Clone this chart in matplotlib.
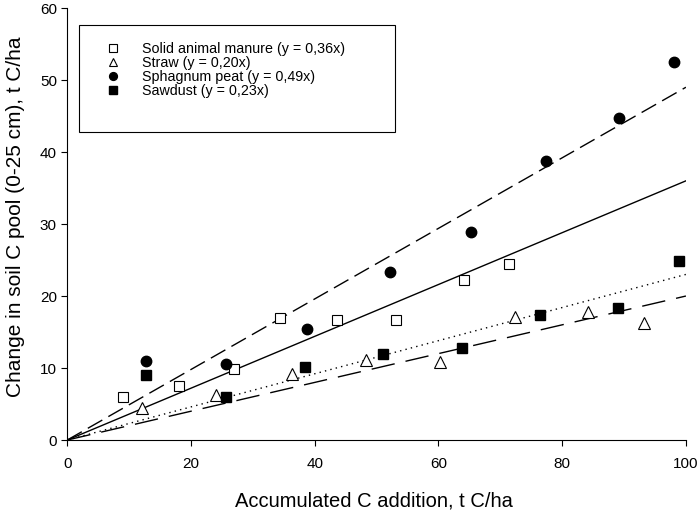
import numpy as np
import matplotlib.pyplot as plt
from matplotlib.patches import Rectangle

plt.rcParams['font.family'] = ['Liberation Sans', 'DejaVu Sans']

manure_x = [9.0, 18.1, 27.0, 34.4, 43.6, 53.2, 64.1, 71.4]
manure_y = [6.0, 7.5, 9.8, 16.9, 16.6, 16.6, 22.2, 24.4]

straw_x = [12.0, 24.1, 36.3, 48.3, 60.2, 72.3, 84.2, 93.2]
straw_y = [4.4, 6.25, 9.2, 11.1, 10.8, 17.1, 17.8, 16.3]

peat_x = [12.8, 25.6, 38.7, 52.1, 65.2, 77.3, 89.2, 98.1]
peat_y = [11.0, 10.6, 15.4, 23.3, 28.9, 38.7, 44.7, 52.5]

sawdust_x = [12.7, 25.6, 38.5, 51.1, 63.8, 76.4, 89.1, 98.9]
sawdust_y = [9.0, 6.0, 10.2, 12.0, 12.8, 17.3, 18.4, 24.9]

slopes = {'manure': 0.36, 'straw': 0.20, 'peat': 0.49, 'sawdust': 0.23}
labels = ['Solid animal manure (y = 0,36x)', 'Straw (y = 0,20x)',
          'Sphagnum peat (y = 0,49x)', 'Sawdust (y = 0,23x)']


def main():
    fig = plt.figure(figsize=(6.99, 5.13), dpi=100)
    ax = fig.add_axes([0.0963, 0.1423, 0.885, 0.842])

    # regression lines through origin
    xx = np.array([0, 100])
    ax.plot(xx, slopes['manure'] * xx, color='black', lw=1.0, ls='-')
    ax.plot(xx, slopes['straw'] * xx, color='black', lw=1.0, ls=(0, (17, 8)))
    ax.plot(xx, slopes['peat'] * xx, color='black', lw=1.0, ls=(0, (12, 5)))
    ax.plot(xx, slopes['sawdust'] * xx, color='black', lw=1.0, ls=(0, (1, 3)))

    ms = 7
    h1, = ax.plot(manure_x, manure_y, ls='none', marker='s', ms=ms,
                  mfc='white', mec='black', mew=0.8, label=labels[0])
    h2, = ax.plot(straw_x, straw_y, ls='none', marker='^', ms=ms + 1,
                  mfc='white', mec='black', mew=0.8, label=labels[1])
    h3, = ax.plot(peat_x, peat_y, ls='none', marker='o', ms=ms + 0.5,
                  mfc='black', mec='black', label=labels[2])
    h4, = ax.plot(sawdust_x, sawdust_y, ls='none', marker='s', ms=ms,
                  mfc='black', mec='black', label=labels[3])

    ax.set_xlim(0, 100)
    ax.set_ylim(0, 60)
    ax.set_xticks(np.arange(0, 101, 20))
    ax.set_yticks(np.arange(0, 61, 10))
    for side in ['top', 'right']:
        ax.spines[side].set_visible(False)
    for side in ['left', 'bottom']:
        ax.spines[side].set_linewidth(0.8)
    ax.tick_params(axis='x', direction='out', length=4, width=0.8, pad=8.5, labelsize=11)
    ax.tick_params(axis='y', direction='out', length=4, width=0.8, pad=3.5, labelsize=11)

    ax.set_xlabel('Accumulated C addition, t C/ha', fontsize=14.5)
    ax.set_ylabel('Change in soil C pool (0-25 cm), t C/ha', fontsize=15)
    ax.xaxis.set_label_coords(0.495, -0.12)
    ax.yaxis.set_label_coords(-0.068, 0.518)

    # legend box drawn separately
    ax.add_patch(Rectangle((0.019, 0.713), 0.511, 0.248, transform=ax.transAxes,
                           fill=False, lw=0.8, ec='black', zorder=5))
    ax.legend(handles=[h1, h2, h3, h4], loc='upper left', bbox_to_anchor=(0.0626, 0.921),
              frameon=False, fontsize=10.3, borderpad=0, borderaxespad=0,
              handlelength=1.0, handletextpad=1.5, labelspacing=0.0, markerscale=0.75)

    fig.savefig('out.png', dpi=100)


if __name__ == '__main__':
    main()
